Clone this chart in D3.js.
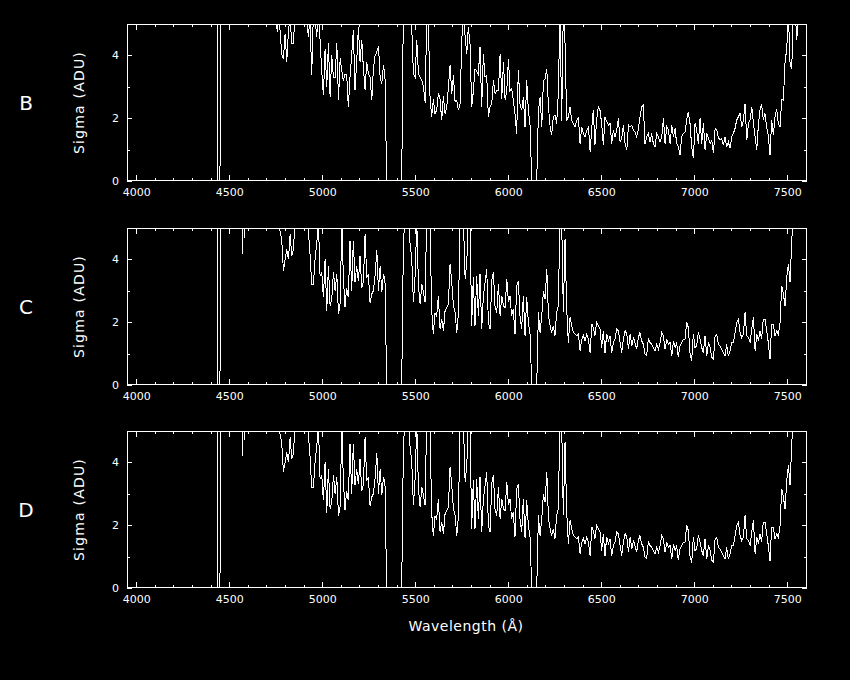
<!DOCTYPE html>
<html><head><meta charset="utf-8">
<script src="https://cdn.jsdelivr.net/npm/d3@7"></script>
<style>html,body{margin:0;background:#000;}svg{display:block}</style>
</head><body><svg id="chart" width="850" height="680"></svg>
<script>
// Wavelength sampling (Angstrom)
const wavelength = [
3950,4433,4436,4450,4453,4564,4570,4576,4582,4588,4700,4758,4764,
4773,4782,4791,4800,4809,4818,4827,4836,4845,4854,
4863,4872,4881,4889,4898,4907,4916,4925,4934,4943,
4952,4961,4970,4979,4988,4997,5006,5015,5024,5033,
5042,5051,5060,5069,5078,5087,5096,5105,5113,5122,
5131,5140,5149,5158,5167,5176,5185,5194,5203,5212,
5221,5230,5239,5248,5257,5266,5275,5284,5293,5302,
5311,5320,5329,5337,5346,5355,5364,5373,5382,5391,
5400,5409,5418,5427,5436,5445,5454,5463,5472,5481,
5490,5499,5508,5517,5526,5535,5544,5553,5561,5570,
5579,5588,5597,5606,5615,5624,5633,5642,5651,5660,
5669,5678,5687,5696,5705,5714,5723,5732,5741,5750,
5759,5768,5777,5785,5794,5803,5812,5821,5830,5839,
5848,5857,5866,5875,5884,5893,5902,5911,5920,5929,
5938,5947,5956,5965,5974,5983,5992,6001,6009,6018,
6027,6036,6045,6054,6063,6072,6081,6090,6099,6108,
6117,6126,6135,6144,6153,6162,6171,6180,6189,6198,
6207,6216,6225,6233,6242,6251,6260,6269,6278,6287,
6296,6305,6314,6323,6332,6341,6350,6359,6368,6377,
6386,6395,6404,6413,6422,6431,6440,6449,6457,6466,
6475,6484,6493,6502,6511,6520,6529,6538,6547,6556,
6565,6574,6583,6592,6601,6610,6619,6628,6637,6646,
6655,6664,6673,6681,6690,6699,6708,6717,6726,6735,
6744,6753,6762,6771,6780,6789,6798,6807,6816,6825,
6834,6843,6852,6861,6870,6879,6888,6897,6905,6914,
6923,6932,6941,6950,6959,6968,6977,6986,6995,7004,
7013,7022,7031,7040,7049,7058,7067,7076,7085,7094,
7103,7112,7121,7129,7138,7147,7156,7165,7174,7183,
7192,7201,7210,7219,7228,7237,7246,7255,7264,7273,
7282,7291,7300,7309,7318,7327,7336,7345,7353,7362,
7371,7380,7389,7398,7407,7416,7425,7434,7443,7452,
7461,7470,7479,7488,7497,7506,7515,7524,7533,7542,
7551,7560,7569,7577,7586,7595];

const sigmaB = [
9,9,0,0,9,9,9,9,9,9,9,4.74,5.5,
4.79,4.05,3.89,4.69,3.79,4.79,5.2,4.37,4.37,5.5,
5.5,5.5,5.5,5.5,5.3,5.5,5.1,4.6,5.2,3.37,
5.3,5.2,4.6,5.5,4.5,3.5,2.73,4.2,3.0,4.4,
2.68,4.0,3.3,3.3,4.4,2.57,3.9,3.5,3.2,3.4,
3.4,2.36,3.3,4.0,4.8,2.9,3.8,4.9,3.8,4.5,
3.6,2.9,3.8,3.4,3.3,2.57,3.6,4.0,4.1,4.3,
3.3,3.1,3.7,3.3,0,0,0,0,0,0,
0,0,0,0,5.6,5.6,5.6,5.6,5.6,4.9,
3.4,3.3,4.5,3.4,3.3,3.2,3.0,2.5,5.1,5.2,
2.7,2.04,2.6,2.15,2.25,2.8,2.6,1.94,2.7,2.15,
2.35,3.0,3.68,2.78,3.36,2.52,2.57,2.25,2.46,4.5,
5.3,4.6,4.05,4.9,4.4,2.36,2.84,3.57,3.5,3.4,
4.26,2.36,4.05,3.31,3.36,2.04,2.36,2.46,3.2,2.78,
2.88,2.88,4.05,2.62,3.8,2.57,2.88,3.9,2.88,2.94,
2.57,2.15,1.51,3.54,2.46,2.25,2.67,1.72,3.2,2.25,
1.78,0,0,0,0,2.25,2.67,1.72,3.2,3.25,
3.58,2.36,1.72,1.46,2.04,2.1,1.83,2.78,5.5,1.9,
5.5,4.4,1.94,2.04,2.36,1.94,1.83,1.72,1.94,2.0,
1.19,1.72,1.51,1.4,1.62,1.72,0.93,1.72,2.25,1.14,
1.94,2.36,2.25,1.83,1.14,2.04,1.89,1.78,1.83,1.19,
1.62,1.4,1.62,1.99,1.25,1.36,1.78,1.19,0.98,1.78,
1.72,1.78,1.62,1.56,1.4,1.62,2.04,2.36,2.41,1.19,
1.4,1.51,1.25,1.51,1.19,1.09,1.51,1.4,1.25,1.4,
1.99,1.19,1.72,1.62,1.19,1.78,1.4,1.67,1.19,1.09,
0.82,1.4,1.51,1.56,1.94,2.2,1.83,1.09,0.72,1.83,
1.62,1.19,1.99,1.19,1.83,0.98,1.51,1.36,1.19,1.3,
0.88,1.67,1.62,1.4,1.3,1.36,1.14,1.4,1.09,1.25,
1.04,1.4,1.51,1.67,1.94,2.04,2.15,1.72,1.94,2.46,
1.3,1.83,1.94,2.36,1.83,1.4,0.98,1.83,2.25,2.46,
1.94,2.15,1.72,1.46,0.82,1.94,1.46,2.04,2.3,1.83,
1.72,2.6,2.57,3.8,4.2,5.3,3.73,3.57,5.5,5.5,
4.48,5.5,5.5,5.5,5.5,5.5];

const sigmaC = [
9,9,0,0,9,9,4.18,9,4.67,9,9,5.3,5.0,
4.9,4.6,3.64,4.0,4.33,4.0,4.8,4.1,4.33,5.3,
5.3,5.2,5.0,5.3,5.0,5.3,5.3,4.9,4.17,3.2,
3.2,4.0,4.5,5.2,3.48,3.59,2.79,4.0,2.36,3.8,
2.52,2.74,3.6,3.0,3.54,2.26,2.6,5.2,3.48,2.47,
3.1,2.79,4.6,3.0,4.6,3.27,3.8,3.3,4.12,3.1,
3.3,4.8,3.43,3.5,2.6,2.9,3.0,3.5,4.3,3.0,
3.8,2.95,3.54,3.3,0,0,0,0,0,0,
0,0,0,0,4.5,5.4,5.4,5.4,4.5,4.0,
2.63,3.5,5.2,3.16,2.58,3.2,2.95,2.63,5.4,5.4,
5.2,2.4,1.62,2.3,2.2,2.84,1.8,2.1,1.72,2.36,
2.47,2.58,3.85,3.27,2.52,2.31,1.67,2.3,5.4,5.4,
5.2,3.38,3.91,5.4,5.3,1.88,3.43,1.88,3.48,2.2,
3.54,1.78,2.84,3.27,3.7,1.99,1.78,3.32,3.6,2.47,
2.31,3.22,2.2,2.84,2.52,2.47,3.38,2.63,2.84,2.2,
2.42,1.62,3.16,3.32,2.2,1.78,2.84,1.57,2.79,1.99,
1.62,0,0,0,0,2.31,1.67,2.2,3.0,2.74,
3.7,2.2,1.88,1.67,1.88,1.57,2.31,2.52,5.4,5.2,
2.31,4.65,2.42,1.35,2.15,1.88,1.67,1.62,1.57,1.62,
1.09,1.46,1.57,1.41,1.62,1.46,1.03,1.94,1.83,1.57,
1.99,1.88,1.78,1.19,1.73,1.03,1.62,1.41,1.57,1.03,
1.35,1.46,1.78,1.73,1.35,1.03,1.46,1.73,1.62,1.14,
1.62,1.25,1.51,1.35,1.14,1.51,1.67,1.41,1.3,0.98,
0.93,1.46,1.35,1.3,1.19,1.09,1.3,1.14,1.35,1.67,
1.57,1.14,1.46,1.3,1.35,0.93,1.41,1.19,1.35,0.88,
1.25,1.35,1.46,1.46,1.99,1.83,1.03,0.77,1.62,1.19,
1.25,1.67,1.46,1.19,1.03,1.57,0.93,1.35,1.19,0.88,
0.82,1.57,1.62,1.3,1.25,1.14,1.03,0.93,1.3,0.93,
1.09,1.35,1.35,1.67,1.99,2.1,1.67,1.51,1.62,2.31,
1.57,1.51,1.35,1.78,2.15,1.09,1.62,1.41,1.73,1.46,
2.1,2.1,1.73,1.35,0.82,1.94,1.94,1.57,1.73,1.62,
1.99,3.16,2.9,2.52,3.43,3.85,3.27,4.6,5.4,5.4,
5.4,5.4,5.4,5.4,5.4,5.4];

const sigmaD = [
9,9,0,0,9,9,4.2,9,4.7,9,9,5.3,5.0,
4.9,4.6,3.7,4.0,4.33,4.0,4.8,4.1,4.3,5.3,
5.3,5.2,5.0,5.3,5.0,5.3,5.3,4.9,4.2,3.2,
3.2,4.0,4.5,5.2,3.48,3.59,2.79,4.0,2.4,3.8,
2.52,2.74,3.6,3.0,3.54,2.3,2.6,5.2,3.48,2.47,
3.1,2.79,4.6,3.0,4.6,3.27,3.8,3.3,4.12,3.1,
3.3,4.8,3.43,3.5,2.6,2.9,3.0,3.5,4.3,3.0,
3.8,2.95,3.54,3.3,0,0,0,0,0,0,
0,0,0,0,4.5,5.4,5.4,5.4,4.5,4.0,
2.63,3.5,5.2,3.16,2.58,3.2,2.95,2.63,5.4,5.4,
5.2,2.4,1.65,2.3,2.2,2.84,1.8,2.1,1.72,2.36,
2.47,2.58,3.85,3.27,2.52,2.31,1.67,2.3,5.4,5.4,
5.2,3.38,3.91,5.4,5.3,1.88,3.43,1.88,3.48,2.2,
3.54,1.78,2.84,3.27,3.7,1.99,1.78,3.32,3.6,2.47,
2.31,3.22,2.2,2.84,2.52,2.47,3.38,2.63,2.84,2.2,
2.42,1.62,3.16,3.32,2.2,1.78,2.84,1.6,2.79,1.99,
1.62,0,0,0,0,2.31,1.67,2.2,3.0,2.74,
3.7,2.2,1.88,1.67,1.88,1.57,2.31,2.52,5.4,5.2,
2.31,4.65,2.42,1.4,2.15,1.88,1.67,1.62,1.57,1.62,
1.09,1.46,1.57,1.41,1.62,1.46,1.03,1.94,1.83,1.57,
1.99,1.88,1.78,1.19,1.73,1.03,1.62,1.41,1.57,1.03,
1.35,1.46,1.78,1.73,1.35,1.03,1.46,1.73,1.62,1.14,
1.62,1.25,1.51,1.35,1.14,1.51,1.67,1.41,1.3,0.98,
0.95,1.46,1.35,1.3,1.19,1.09,1.3,1.14,1.35,1.67,
1.57,1.14,1.46,1.3,1.35,0.93,1.41,1.19,1.35,0.88,
1.25,1.35,1.46,1.46,1.99,1.83,1.03,0.8,1.62,1.19,
1.25,1.67,1.46,1.19,1.03,1.57,0.93,1.35,1.19,0.88,
0.82,1.57,1.62,1.3,1.25,1.14,1.03,0.93,1.3,0.93,
1.09,1.35,1.35,1.67,1.99,2.1,1.67,1.51,1.62,2.31,
1.57,1.51,1.35,1.78,2.15,1.09,1.62,1.41,1.73,1.46,
2.1,2.1,1.73,1.35,0.85,1.94,1.94,1.57,1.73,1.62,
1.99,3.16,2.9,2.52,3.43,3.9,3.27,4.6,5.4,5.4,
5.4,5.4,5.4,5.4,5.4,5.4];

const panelLabels = ["B", "C", "D"];
const xMajorTicks = [4000, 4500, 5000, 5500, 6000, 6500, 7000, 7500];
const yMajorTicks = [0, 2, 4];
const yMinorTicks = [1, 3];
const xLabel = "Wavelength (\u00C5)";
const yLabel = "Sigma (ADU)";

[sigmaB, sigmaC, sigmaD].forEach((s, i) => {
  if (s.length !== wavelength.length) throw new Error("length mismatch panel " + i + ": " + s.length + " vs " + wavelength.length);
});

const svg = d3.select("#chart");
svg.append("rect").attr("width", 850).attr("height", 680).attr("fill", "#000");

const left = 127, right = 807, ph = 157;
const panelTops = [24, 228, 431];
const x = d3.scaleLinear().domain([3950, 7606]).range([left, right]);
const xMinor = d3.range(4000, 7601, 100).filter(v => v % 500 !== 0);
const font = "'DejaVu Sans', sans-serif";
const series = [sigmaB, sigmaC, sigmaD];

series.forEach((sig, i) => {
  const top = panelTops[i];
  const y = d3.scaleLinear().domain([0, 5]).range([top + ph, top]);
  const g = svg.append("g");
  const cid = "clip" + i;
  svg.append("defs").append("clipPath").attr("id", cid)
    .append("rect").attr("x", left).attr("y", top).attr("width", right - left).attr("height", ph);

  const line = d3.line().x((d, j) => x(wavelength[j])).y(d => y(d));
  g.append("path").datum(sig)
    .attr("clip-path", `url(#${cid})`)
    .attr("d", line)
    .attr("fill", "none").attr("stroke", "#fff").attr("stroke-width", 1)
    .attr("shape-rendering", "crispEdges");

  // axes
  const styleAxis = sel => {
    sel.select(".domain").remove();
    sel.selectAll("line").attr("stroke", "#fff").attr("shape-rendering", "crispEdges");
    sel.selectAll("text").attr("fill", "#fff").style("font-family", font).style("font-size", "11px");
  };
  g.append("g").attr("transform", `translate(0,${top + ph})`)
    .call(d3.axisBottom(x).tickValues(xMajorTicks).tickSize(-6).tickPadding(7).tickFormat(d3.format("d")))
    .call(styleAxis);
  g.append("g").attr("transform", `translate(0,${top + ph})`)
    .call(d3.axisBottom(x).tickValues(xMinor).tickSize(-3).tickFormat(""))
    .call(styleAxis);
  g.append("g").attr("transform", `translate(0,${top})`)
    .call(d3.axisTop(x).tickValues(xMajorTicks).tickSize(-6).tickFormat(""))
    .call(styleAxis);
  g.append("g").attr("transform", `translate(0,${top})`)
    .call(d3.axisTop(x).tickValues(xMinor).tickSize(-3).tickFormat(""))
    .call(styleAxis);
  g.append("g").attr("transform", `translate(${left},0)`)
    .call(d3.axisLeft(y).tickValues(yMajorTicks).tickSize(-5).tickPadding(8).tickFormat(d3.format("d")))
    .call(styleAxis);
  g.append("g").attr("transform", `translate(${left},0)`)
    .call(d3.axisLeft(y).tickValues(yMinorTicks).tickSize(-3).tickFormat(""))
    .call(styleAxis);
  g.append("g").attr("transform", `translate(${right},0)`)
    .call(d3.axisRight(y).tickValues(yMajorTicks).tickSize(-5).tickFormat(""))
    .call(styleAxis);
  g.append("g").attr("transform", `translate(${right},0)`)
    .call(d3.axisRight(y).tickValues(yMinorTicks).tickSize(-3).tickFormat(""))
    .call(styleAxis);

  // frame
  g.append("rect").attr("x", left + 0.5).attr("y", top + 0.5)
    .attr("width", right - left - 1).attr("height", ph - 1)
    .attr("fill", "none").attr("stroke", "#fff").attr("stroke-width", 1)
    .attr("shape-rendering", "crispEdges");

  // y label
  g.append("text")
    .attr("transform", `translate(84,${top + ph / 2}) rotate(-90)`)
    .attr("text-anchor", "middle")
    .attr("fill", "#fff").style("font-family", font).style("font-size", "14px")
    .style("letter-spacing", "1.2px")
    .text(yLabel);

  // panel letter
  g.append("text")
    .attr("x", 26).attr("y", top + ph / 2 + 7)
    .attr("text-anchor", "middle")
    .attr("fill", "#fff").style("font-family", font).style("font-size", "20px")
    .text(panelLabels[i]);
});

svg.append("text")
  .attr("x", 466).attr("y", 631)
  .attr("text-anchor", "middle")
  .attr("fill", "#fff").style("font-family", font).style("font-size", "14px")
  .style("letter-spacing", "0.5px")
  .text(xLabel);
</script>
</body></html>
